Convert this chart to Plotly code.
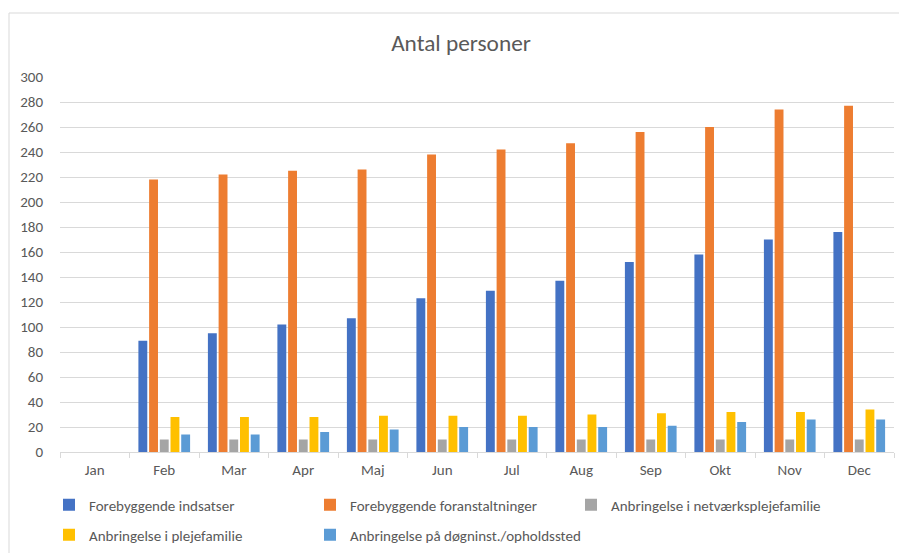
import plotly.graph_objects as go

months = ["Jan", "Feb", "Mar", "Apr", "Maj", "Jun", "Jul", "Aug", "Sep", "Okt", "Nov", "Dec"]
forebyggende_indsatser = [None, 89, 95, 102, 107, 123, 129, 137, 152, 158, 170, 176]
forebyggende_foranstaltninger = [None, 218, 222, 225, 226, 238, 242, 247, 256, 260, 274, 277]
netvaerksplejefamilie = [None, 10, 10, 10, 10, 10, 10, 10, 10, 10, 10, 10]
plejefamilie = [None, 28, 28, 28, 29, 29, 29, 30, 31, 32, 32, 34]
doegninst = [None, 14, 14, 16, 18, 20, 20, 20, 21, 24, 26, 26]

series_names = ["Forebyggende indsatser", "Forebyggende foranstaltninger",
                "Anbringelse i netværksplejefamilie", "Anbringelse i plejefamilie",
                "Anbringelse på døgninst./opholdssted"]
series_values = [forebyggende_indsatser, forebyggende_foranstaltninger, netvaerksplejefamilie,
                 plejefamilie, doegninst]
colors = ["#4472C4", "#ED7D31", "#A5A5A5", "#FFC000", "#5B9BD5"]

FONT = "Calibri, Carlito, 'Liberation Sans', Arial, sans-serif"
TXT = "#595959"
OFF = 8  # page body margin
W, H = 907 - OFF, 553 - OFF
ML, MT = 60 - OFF, 77 - OFF
PR, PB = 894 - OFF, 452 - OFF
MR, MB = W - PR, H - PB
PW, PH = PR - ML, PB - MT


def px_x(p):
    return (p - OFF - ML) / PW


def px_y(p):
    return (H - MB - (p - OFF)) / PH


# legend text start positions (screen px) and row centres
legend_pos = [(89, 505), (350, 505), (611, 505), (89, 535), (350, 535)]
legend_keys = ["legend", "legend2", "legend3", "legend4", "legend5"]

fig = go.Figure()
for name, vals, color, lg in zip(series_names, series_values, colors, legend_keys):
    fig.add_trace(go.Bar(x=months, y=vals, name=name, marker=dict(color=color, line=dict(width=0)),
                         legend=lg))

layout = dict(
    width=W, height=H,
    margin=dict(l=ML, r=MR, t=MT, b=MB, autoexpand=False),
    paper_bgcolor="white", plot_bgcolor="white",
    font=dict(family=FONT, size=15, color=TXT),
    title=dict(text="Antal personer", x=(461 - OFF) / W, xanchor="center", xref="container",
               y=1 - (43 - OFF) / H, yanchor="middle", yref="container",
               font=dict(family=FONT, size=23.3, color=TXT)),
    barmode="group", bargap=0.23, bargroupgap=0.17,
    showlegend=True,
    xaxis=dict(type="category", showgrid=False, showline=True, linecolor="#D9D9D9", linewidth=1,
               ticks="outside", tickson="boundaries", ticklen=5, tickcolor="#D9D9D9",
               ticklabelstandoff=4,
               tickfont=dict(family=FONT, size=15, color=TXT), fixedrange=True),
    yaxis=dict(range=[0, 300], dtick=20, tick0=0, showgrid=True, gridcolor="#D9D9D9", gridwidth=1,
               zeroline=False, showline=False, ticks="", ticklabelstandoff=16,
               tickfont=dict(family=FONT, size=15, color=TXT), fixedrange=True),
    shapes=[
        dict(type="rect", xref="paper", yref="paper", x0=px_x(9), x1=px_x(940), y0=px_y(580), y1=px_y(13),
             line=dict(color="#D9D9D9", width=1), fillcolor="rgba(0,0,0,0)", layer="below"),
    ],
)
for key, (tx, ty) in zip(legend_keys, legend_pos):
    layout[key] = dict(orientation="h", x=px_x(tx - 40), xanchor="left", y=px_y(ty), yanchor="middle",
                       font=dict(family=FONT, size=15, color=TXT), itemwidth=30,
                       bgcolor="rgba(0,0,0,0)", borderwidth=0)
fig.update_layout(**layout)

fig.write_html("out.html")
